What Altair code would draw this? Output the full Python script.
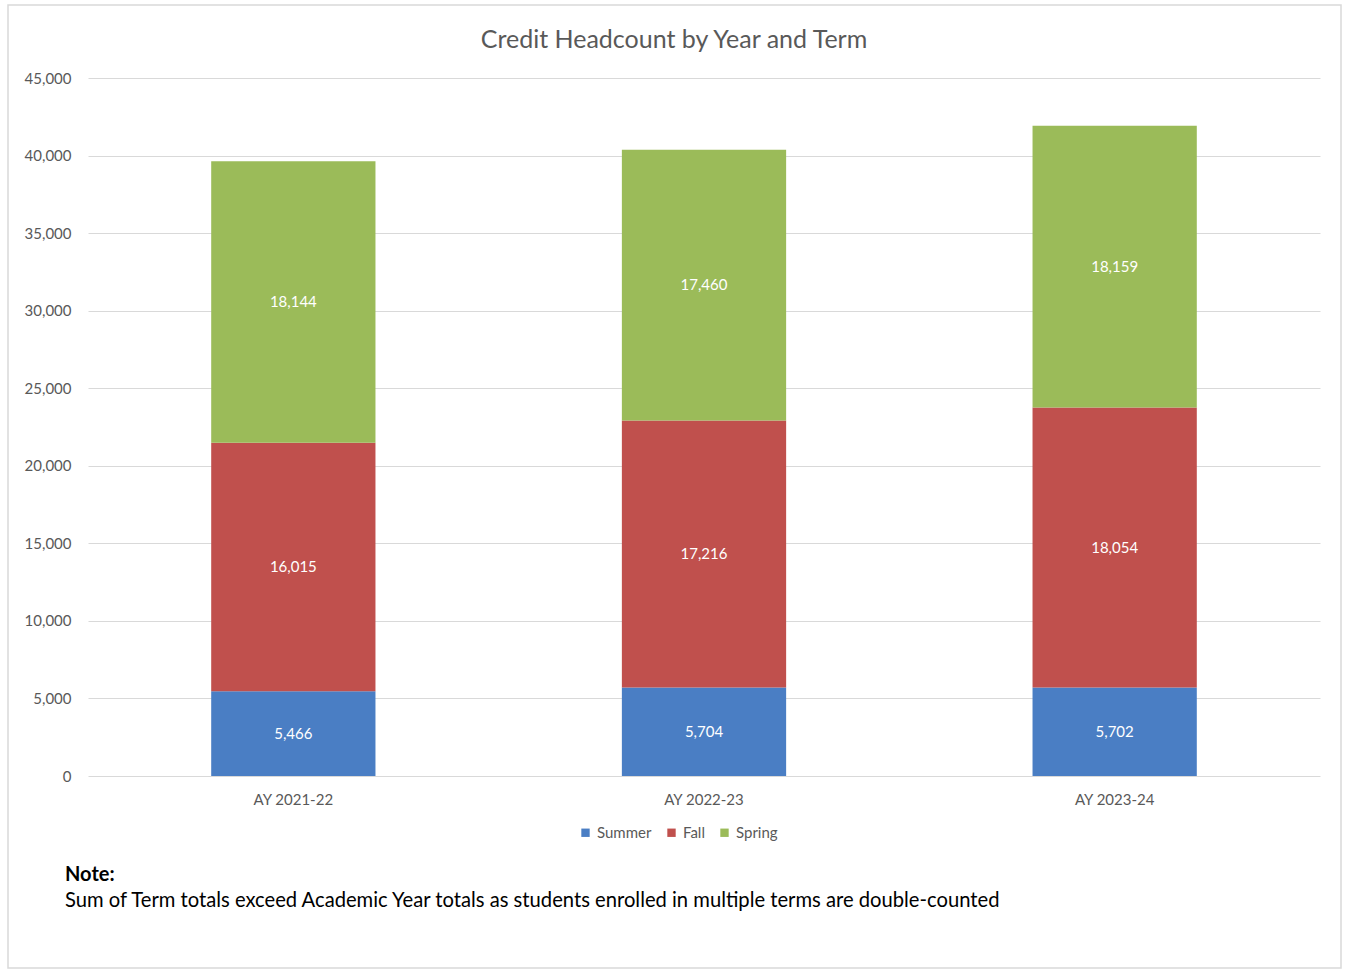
import altair as alt
import pandas as pd

years = ["AY 2021-22", "AY 2022-23", "AY 2023-24"]
terms = ["Summer", "Fall", "Spring"]
summer = [5466, 5704, 5702]
fall = [16015, 17216, 18054]
spring = [18144, 17460, 18159]
colors = ["#4A7EC4", "#C0504D", "#9BBB59"]
y_ticks = [0, 5000, 10000, 15000, 20000, 25000, 30000, 35000, 40000, 45000]
title_text = "Credit Headcount by Year and Term"
note_head = ["Note:"]
note_body = ["Sum of Term totals exceed Academic Year totals as students enrolled in multiple terms are double-counted"]

rows = []
for i, y in enumerate(years):
    for j, (t, vals) in enumerate(zip(terms, [summer, fall, spring])):
        rows.append({"year": y, "term": t, "idx": j, "value": vals[i]})
df = pd.DataFrame(rows)

FONT = "Lato"
GRAY = "#595959"

x_enc = alt.X("year:N", sort=years, title=None,
              scale=alt.Scale(paddingInner=0.6, paddingOuter=0.3),
              axis=alt.Axis(labelAngle=0, labelFontSize=15, labelColor=GRAY,
                            labelFont=FONT, ticks=False, domain=False, labelPadding=16))

base = alt.Chart(df).transform_stack(
    stack="value", groupby=["year"], as_=["v0", "v1"],
    sort=[alt.SortField("idx", order="ascending")]
).transform_calculate(mid="(datum.v0 + datum.v1) / 2")

bars = base.mark_bar().encode(
    x=x_enc,
    y=alt.Y("v0:Q", title=None,
            scale=alt.Scale(domain=[0, 45000], nice=False),
            axis=alt.Axis(values=y_ticks, labelExpr="format(datum.value, ',')",
                          labelFontSize=15, labelColor=GRAY,
                          labelFont=FONT, ticks=False, domain=False, labelPadding=17,
                          gridColor="#D9D9D9", gridWidth=1)),
    y2="v1:Q",
    color=alt.Color("term:N", scale=alt.Scale(domain=terms, range=colors),
                    legend=alt.Legend(title=None, orient="none", direction="horizontal",
                                      legendX=490, legendY=747, symbolType="square",
                                      symbolSize=70, symbolStrokeWidth=0,
                                      labelFontSize=15, labelColor=GRAY, labelFont=FONT,
                                      columnPadding=12, labelOffset=4)),
)

labels = base.mark_text(color="white", fontSize=15, font=FONT).encode(
    x=alt.X("year:N", sort=years),
    y=alt.Y("mid:Q"),
    text=alt.Text("value:Q", format=","),
)

title_df = pd.DataFrame({"t": [title_text]})
title = alt.Chart(title_df).mark_text(fontSize=25, color=GRAY, font=FONT, align="center", baseline="middle").encode(
    x=alt.value(586), y=alt.value(-38), text="t:N")

nh = alt.Chart(pd.DataFrame({"t": note_head})).mark_text(
    fontSize=20, fontWeight="bold", color="#000000", font=FONT, align="left", baseline="middle").encode(
    x=alt.value(-23), y=alt.value(797), text="t:N")
nb = alt.Chart(pd.DataFrame({"t": note_body})).mark_text(
    fontSize=20.2, color="#000000", font=FONT, align="left", baseline="middle").encode(
    x=alt.value(-23), y=alt.value(823), text="t:N")

border = alt.Chart(pd.DataFrame({"a": [0]})).mark_rect(fill=None, stroke="#D9D9D9", strokeWidth=1.5).encode(
    x=alt.value(-80), x2=alt.value(1253), y=alt.value(-73), y2=alt.value(890))

chart = alt.layer(bars, labels, title, nh, nb, border).properties(
    width=1232, height=698,
    padding={"left": 88, "top": 78, "right": 26, "bottom": 195},
    autosize=alt.AutoSizeParams(type="none"),
    background="white",
).configure_view(stroke=None)

chart.save("out.html", embed_options={"renderer": "svg", "actions": False})
